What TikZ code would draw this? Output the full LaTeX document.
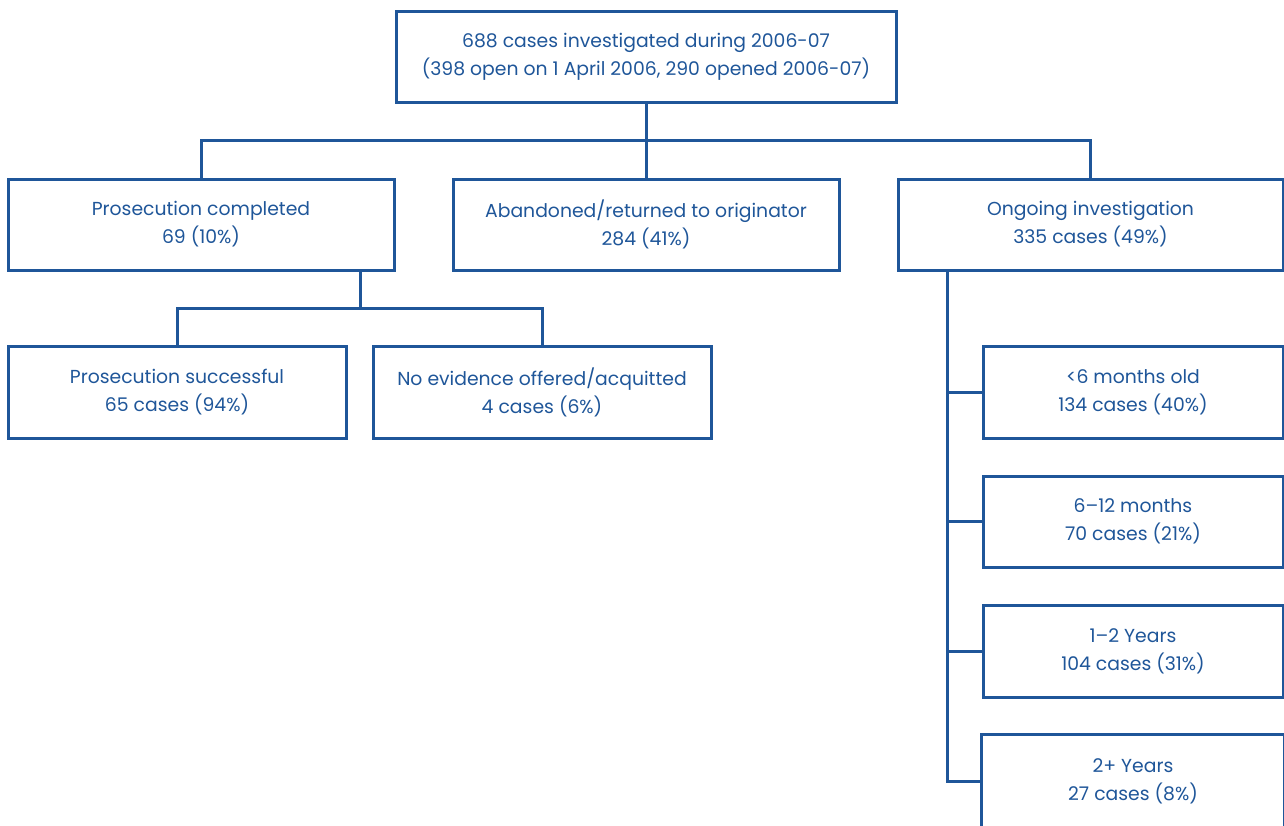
\documentclass[tikz,border=0pt]{standalone}
\usepackage{fontspec}
\setmainfont{Poppins}
\definecolor{blu}{HTML}{1F5699}
\begin{document}
\begin{tikzpicture}[x=1pt,y=-1pt,
  box/.style={draw=blu,line width=3pt,text=blu,align=center,inner sep=0pt,
    font=\fontsize{18.8}{28}\selectfont,minimum height=91pt},
  conn/.style={draw=blu,line width=3pt}]
\useasboundingbox (0,0) rectangle (1284,825);
\clip (0,0) rectangle (1284,825);
\node[box,minimum width=500pt] (top) at (646,56.5) {688 cases investigated during 2006-07\\(398 open on 1 April 2006, 290 opened 2006-07)};
\node[box,minimum width=386pt] (pc) at (201,224.5) {Prosecution completed\\69 (10\%)};
\node[box,minimum width=386pt] (ab) at (646,224.5) {Abandoned/returned to originator\\284 (41\%)};
\node[box,minimum width=385pt] (og) at (1090.5,224.5) {Ongoing investigation\\335 cases (49\%)};
\node[box,minimum width=338pt,minimum height=92pt] (ps) at (177,392) {Prosecution successful\\65 cases (94\%)};
\node[box,minimum width=338pt,minimum height=92pt] (ne) at (542,392) {No evidence offered/acquitted\\4 cases (6\%)};
\node[box,minimum width=300pt,minimum height=92pt] (r1) at (1133,392) {<6 months old\\134 cases (40\%)};
\node[box,minimum width=300pt] (r2) at (1133,521.5) {6–12 months\\70 cases (21\%)};
\node[box,minimum width=300pt,minimum height=92pt] (r3) at (1133,651) {1–2 Years\\104 cases (31\%)};
\node[box,draw=none,minimum width=300pt,minimum height=91pt] (r4) at (1133,781.5) {2+ Years\\27 cases (8\%)};
\draw[conn] ([yshift=-20pt]r4.south west) -- (r4.north west) -- (r4.north east) -- ([yshift=-20pt]r4.south east);
\coordinate (bar) at (646,140);
\coordinate (sbar) at (360,308);
\draw[conn] (top.south) -- (bar);
\draw[conn] (pc.north) |- (og.north |- bar) -- (og.north);
\draw[conn] (bar) -- (ab.north);
\draw[conn] (sbar |- pc.south) -- (sbar);
\draw[conn] (ps.north) |- (ne.north |- sbar) -- (ne.north);
\draw[conn] (947,0 |- og.south) coordinate (ov) -- (ov |- r4.west) -- (r4.west);
\draw[conn] (ov |- r1.west) -- (r1.west);
\draw[conn] (ov |- r2.west) -- (r2.west);
\draw[conn] (ov |- r3.west) -- (r3.west);
\end{tikzpicture}
\end{document}
